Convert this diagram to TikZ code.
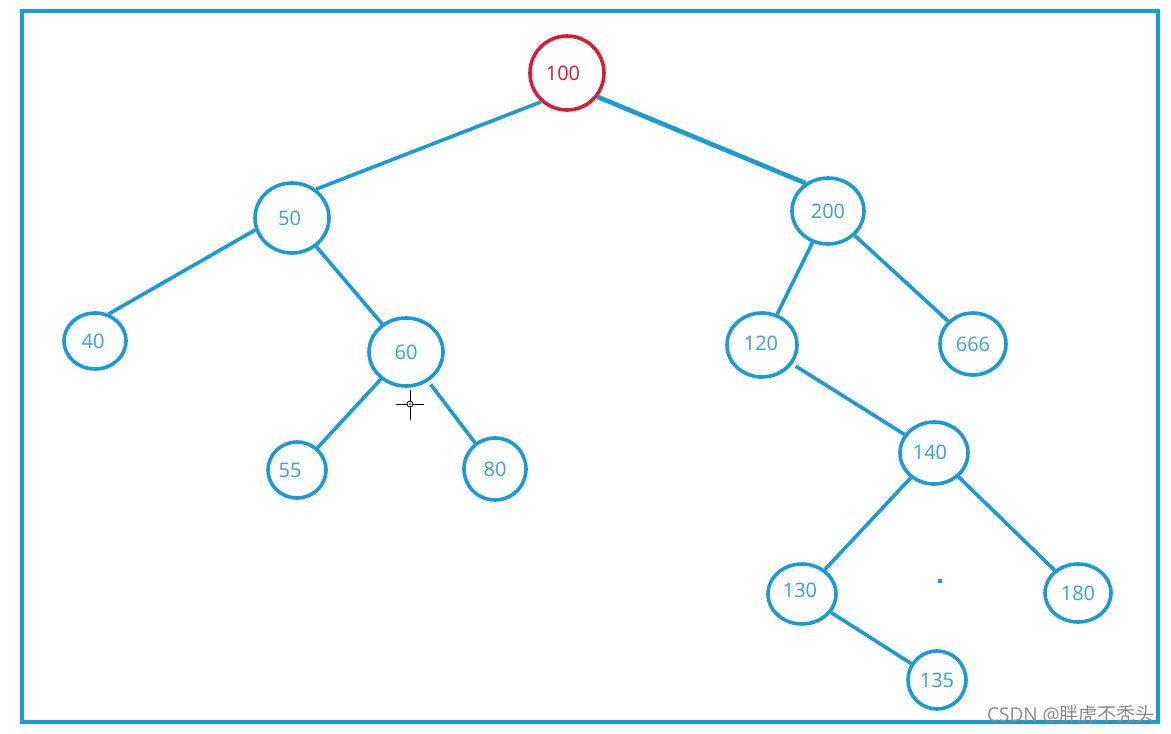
\documentclass[tikz,border=0pt]{standalone}
\usepackage{fontspec}
\setmainfont{Open Sans}
\newfontfamily\cjkfont{Noto Sans CJK SC}
\usetikzlibrary{shapes.geometric}
\definecolor{lineblue}{HTML}{1A9AD6}
\definecolor{textblue}{HTML}{3AA0D8}
\definecolor{rootred}{HTML}{D42030}
\definecolor{wmgray}{HTML}{8A8A8A}
\tikzset{
  tn/.style={ellipse, draw=lineblue, line width=3.6pt, inner sep=0pt, text=textblue,
    font=\fontsize{20}{22}\selectfont},
  rootn/.style={tn, draw=rootred, text=rootred},
  edge/.style={draw=lineblue, line width=3.6pt},
}
\begin{document}
\begin{tikzpicture}[x=1pt,y=-1pt]
\useasboundingbox (0,0) rectangle (1171,734);
\fill[white] (0,0) rectangle (1171,734);
\draw[lineblue, line width=4pt] (22,11) rectangle (1158,722);

\node[rootn, minimum width=74pt, minimum height=74pt] (n100) at (567,73) {\hspace*{-8pt}100};
\node[tn, minimum width=74pt, minimum height=70pt] (n50) at (292,218) {\hspace*{-5pt}50};
\node[tn, minimum width=72pt, minimum height=66pt] (n200) at (828,211) {200};
\node[tn, minimum width=62pt, minimum height=56pt] (n40) at (95,341) {\hspace*{-4pt}40};
\node[tn, minimum width=74pt, minimum height=68pt] (n60) at (406,352) {60};
\node[tn, minimum width=70pt, minimum height=64pt] (n120) at (762,345) {\raisebox{4pt}{\hspace*{-2pt}120}};
\node[tn, minimum width=66pt, minimum height=62pt] (n666) at (973,344) {666};
\node[tn, minimum width=58pt, minimum height=56pt] (n55) at (297,470) {\hspace*{-14pt}55};
\node[tn, minimum width=62pt, minimum height=62pt] (n80) at (495,469) {80};
\node[tn, minimum width=68pt, minimum height=62pt] (n140) at (934,453) {\raisebox{2pt}{\hspace*{-8pt}140}};
\node[tn, minimum width=68pt, minimum height=60pt] (n130) at (802,594) {\raisebox{7pt}{\hspace*{-4pt}130}};
\node[tn, minimum width=66pt, minimum height=58pt] (n180) at (1078,593) {180};
\node[tn, minimum width=58pt, minimum height=58pt] (n135) at (937,680) {135};

\draw[edge] (n100.228) -- (n50.50);
\draw[edge, line width=4.6pt] (n100.-38) -- (n200.129);
\draw[edge] (n50.198) -- (n40.63);
\draw[edge] (n50) -- (n60);
\draw[edge] (n60) -- (n55);
\draw[edge, shorten <=4pt] (n60) -- (n80);
\draw[edge] (n200) -- (n120);
\draw[edge] (n200) -- (n666);
\draw[edge, shorten <=4pt] (n120) -- (n140);
\draw[edge] (n140) -- (n130);
\draw[edge] (n140) -- (n180);
\draw[edge] (n130) -- (n135);

% cursor mark
\coordinate (cur) at (410,404);
\draw[black, line width=1pt] ([xshift=-14pt]cur) -- ([xshift=14pt]cur);
\draw[black, line width=1pt] ([yshift=-16pt]cur) -- ([yshift=14pt]cur);
\filldraw[fill=white, draw=black, line width=0.8pt] (cur) circle (3pt);
\fill[black] (cur) circle (0.9pt);
% stray dot
\fill[lineblue] (938,579) rectangle (942,583);

\node[text=wmgray, anchor=east, inner sep=0pt, font=\fontsize{19}{21}\selectfont] (wm) at (1155,714) {CSDN @{\cjkfont 胖虎不秃头}};
\end{tikzpicture}
\end{document}
